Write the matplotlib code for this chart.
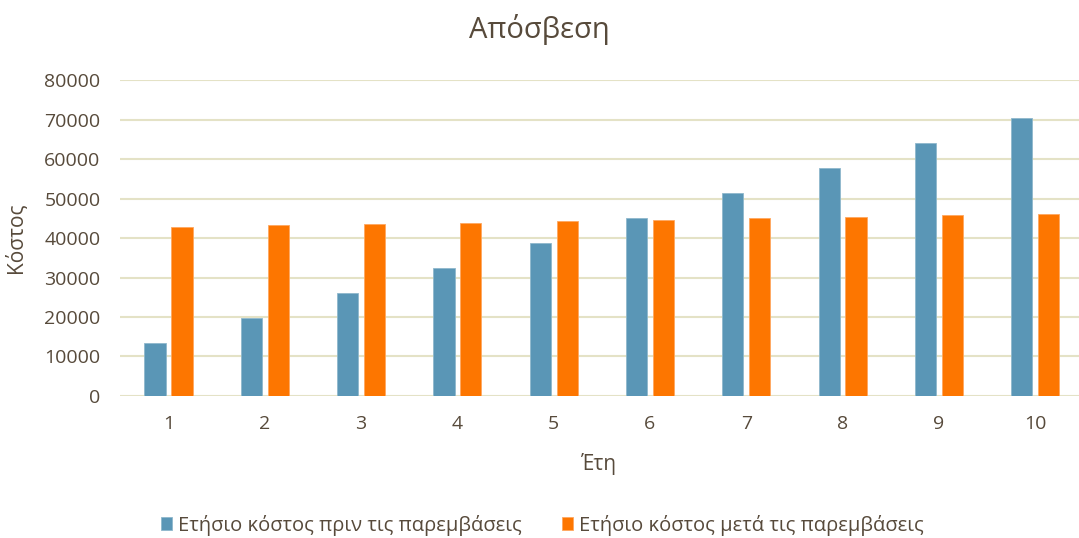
import numpy as np
import matplotlib.pyplot as plt

plt.rcParams['font.family'] = ['Open Sans', 'DejaVu Sans']

# Δεδομένα
eti = [1, 2, 3, 4, 5, 6, 7, 8, 9, 10]
prin = [13330, 19830, 26000, 32300, 38650, 45000, 51300, 57640, 63970, 70300]
meta = [42870, 43200, 43550, 43880, 44300, 44640, 44980, 45400, 45740, 46080]

label_prin = 'Ετήσιο κόστος πριν τις παρεμβάσεις'
label_meta = 'Ετήσιο κόστος μετά τις παρεμβάσεις'

text_color = '#574A3B'
grid_color = '#E4E2C6'
blue = '#5A96B6'
orange = '#FD7600'

fig = plt.figure(figsize=(10.79, 5.38), dpi=100)
ax = fig.add_axes([0.1112, 0.264, 0.8888, 0.587])

x = np.array(eti)
w = 0.22
ax.bar(x - 0.14, prin, width=w, color=blue, edgecolor='#8FB8CC', linewidth=0.6,
       label=label_prin, zorder=3)
ax.bar(x + 0.14, meta, width=w, color=orange, edgecolor='#FFA860', linewidth=0.6,
       label=label_meta, zorder=3)

ax.set_xlim(0.496, 10.455)
ax.set_ylim(0, 80000)
ax.set_xticks(x)
ax.set_xticklabels([str(e) for e in eti])
ax.set_yticks(np.arange(0, 80001, 10000))

ax.grid(axis='y', color=grid_color, linewidth=1.5, zorder=0)
for s in ['top', 'right', 'left', 'bottom']:
    ax.spines[s].set_visible(False)
ax.tick_params(length=0, labelsize=14, labelcolor=text_color)
ax.tick_params(axis='x', pad=14)
ax.tick_params(axis='y', pad=14)

ax.set_xlabel('Έτη', fontsize=15, color=text_color, labelpad=14)
ax.set_ylabel('Κόστος', fontsize=15, color=text_color)
ax.yaxis.set_label_coords(-0.097, 0.5)

fig.text(0.5, 0.945, 'Απόσβεση', ha='center', va='center', fontsize=21,
         color=text_color)

leg = fig.legend(loc='center', bbox_to_anchor=(0.503, 0.024), ncol=2, frameon=False,
                 fontsize=14.5, handlelength=0.55, handleheight=0.55, handletextpad=0.3,
                 columnspacing=2.0, labelcolor=text_color)

fig.savefig('out.png', dpi=100)
